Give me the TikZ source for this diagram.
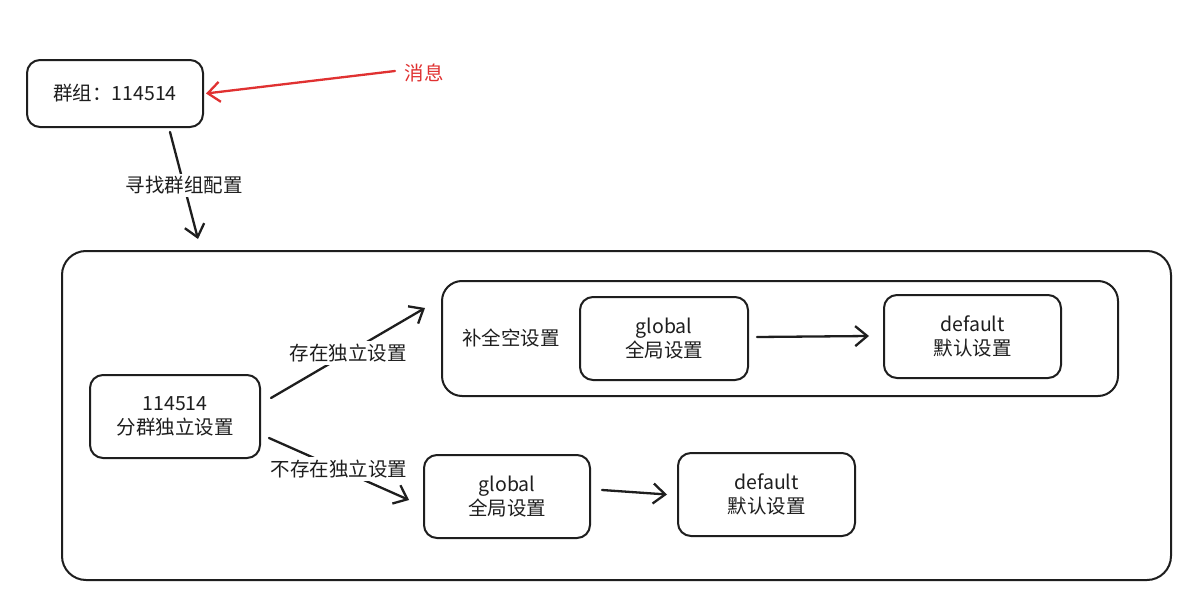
\documentclass[tikz,border=0pt]{standalone}
\usepackage{fontspec}
\setmainfont{Noto Sans CJK SC}
\usetikzlibrary{arrows.meta}
\definecolor{ink}{HTML}{1E1E1E}
\definecolor{alert}{HTML}{E03131}
\begin{document}
\begin{tikzpicture}[x=1pt,y=-1pt,
  txt/.style={font=\fontsize{19.5}{24}\selectfont},
  box/.style={txt, draw=ink, line width=2pt, rounded corners=13pt, text=ink,
    align=center, inner sep=0pt},
  flow/.style={draw=ink, line width=2.3pt, line cap=round,
    -{Straight Barb[length=12pt,width=20pt,line width=2.3pt]}},
  lbl/.style={txt, text=ink, fill=white, inner sep=3pt}]
\useasboundingbox[fill=white] (0,0) rectangle (1195,605);

% containers
\node[box, rounded corners=24pt, minimum width=1109pt, minimum height=329pt] (outer) at (616.5,415.5) {};
\node[box, rounded corners=20pt, minimum width=676pt, minimum height=115pt] (fillall) at (780,338.5) {};

% boxes
\node[box, minimum width=176pt, minimum height=67pt] (grp) at (115,93.5) {群组：114514};
\node[box, minimum width=170pt, minimum height=83pt] (split) at (175,416.5) {114514\\分群独立设置};
\node[box, minimum width=168pt, minimum height=83pt] (g1) at (664,338.5) {global\\全局设置};
\node[box, minimum width=177pt, minimum height=83pt] (d1) at (972.5,336.5) {default\\默认设置};
\node[box, minimum width=166pt, minimum height=83pt] (g2) at (507,496.5) {global\\全局设置};
\node[box, minimum width=177pt, minimum height=83pt] (d2) at (766.5,494.5) {default\\默认设置};

% free labels
\node[txt, text=alert] (msg) at (424,73) {消息};
\node[txt, text=ink] (filltext) at (511,338) {补全空设置};

% connectors
\draw[flow, draw=alert] ([xshift=-6pt,yshift=2pt]msg.west) -- ([xshift=2pt]grp.east);
\draw[flow] ([xshift=55pt,yshift=-4pt]grp.south) -- node[lbl] {寻找群组配置} ([xshift=-418.5pt,yshift=11pt]outer.north);
\draw[flow] ([xshift=10pt,yshift=18.5pt]split.east) -- node[lbl] {存在独立设置} ([xshift=-16pt,yshift=30.5pt]fillall.west);
\draw[flow] ([xshift=8pt,yshift=-21.5pt]split.east) -- node[lbl] {不存在独立设置} ([xshift=-14pt,yshift=-3.5pt]g2.west);
\draw[flow] ([xshift=8pt,yshift=1.5pt]g1.east) -- ([xshift=-14pt,yshift=0.5pt]d1.west);
\draw[flow] ([xshift=11pt,yshift=6.5pt]g2.east) -- ([xshift=-10pt]d2.west);
\end{tikzpicture}
\end{document}
